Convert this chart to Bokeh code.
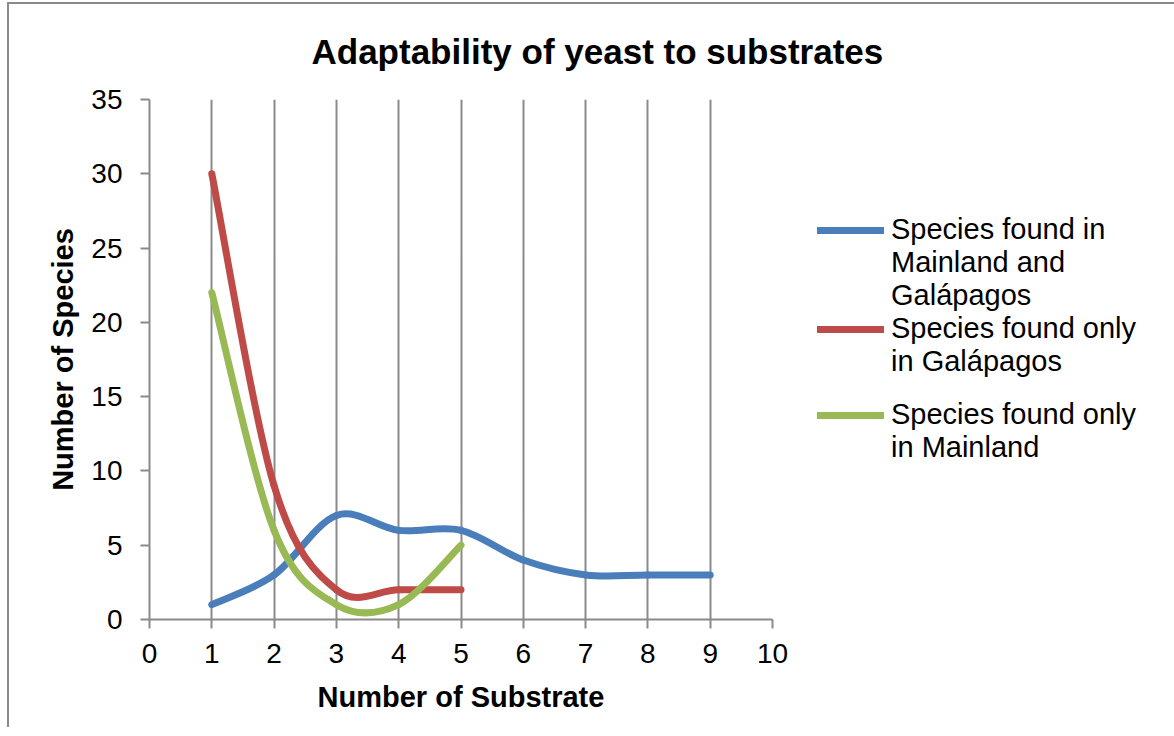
from bokeh.plotting import figure
from bokeh.models import Range1d, FixedTicker, ColumnDataSource, Legend, LegendItem, Title
from bokeh.embed import file_html
from bokeh.resources import INLINE

# ---------------- data ----------------
X_BOTH = [1, 2, 3, 4, 5, 6, 7, 8, 9]
Y_BOTH = [1, 3, 7, 6, 6, 4, 3, 3, 3]
X_GALAPAGOS = [1, 2, 3, 4, 5]
Y_GALAPAGOS = [30, 9, 2, 2, 2]
X_MAINLAND = [1, 2, 3, 4, 5]
Y_MAINLAND = [22, 6, 1, 1, 5]

SERIES_LABELS = [
    ["Species found in", "Mainland and", "Galápagos"],
    ["Species found only", "in Galápagos"],
    ["Species found only", "in Mainland"],
]
SERIES_COLORS = ["#4A7EBB", "#BE4B48", "#98B954"]
X_TICKS = [0, 1, 2, 3, 4, 5, 6, 7, 8, 9, 10]
Y_TICKS = [0, 5, 10, 15, 20, 25, 30, 35]
TITLE = "Adaptability of yeast to substrates"
X_TITLE = "Number of Substrate"
Y_TITLE = "Number of Species"

FONT = "Liberation Sans"
GRAY = "#8a8a8a"
LW = 7


def smooth_segments(xs, ys):
    """Cubic Bezier segments (Catmull-Rom, tension 1/6) like Excel smoothing."""
    n = len(xs)
    pts = list(zip(xs, ys))
    d = {k: [] for k in ("x0", "y0", "x1", "y1", "cx0", "cy0", "cx1", "cy1")}
    for i in range(n - 1):
        p0 = pts[i - 1] if i > 0 else pts[i]
        p1 = pts[i]
        p2 = pts[i + 1]
        p3 = pts[i + 2] if i + 2 < n else pts[i + 1]
        d["x0"].append(p1[0]); d["y0"].append(p1[1])
        d["x1"].append(p2[0]); d["y1"].append(p2[1])
        d["cx0"].append(p1[0] + (p2[0] - p0[0]) / 6)
        d["cy0"].append(p1[1] + (p2[1] - p0[1]) / 6)
        d["cx1"].append(p2[0] - (p3[0] - p1[0]) / 6)
        d["cy1"].append(p2[1] - (p3[1] - p1[1]) / 6)
    return ColumnDataSource(d)


p = figure(
    frame_width=623, frame_height=520,
    min_border_left=140, min_border_right=395,
    min_border_top=95, min_border_bottom=108,
    x_range=Range1d(X_TICKS[0], X_TICKS[-1]), y_range=Range1d(Y_TICKS[0], Y_TICKS[-1]),
    output_backend="svg", toolbar_location=None, title=None,
)
p.styles = {"margin-left": "7px", "margin-top": "2px",
            "border-left": "2px solid " + GRAY, "border-top": "2px solid " + GRAY}
p.outline_line_color = None
p.background_fill_color = "white"
p.border_fill_color = "white"

# title
title = Title(text=TITLE, text_font=FONT, text_font_size="35px",
              text_font_style="bold", text_color="black", align="left",
              vertical_align="top", offset=162, standoff=53)
p.add_layout(title, "above")

# grid
p.xgrid.ticker = FixedTicker(ticks=X_TICKS)
p.xgrid.grid_line_color = GRAY
p.xgrid.grid_line_width = 2
p.ygrid.grid_line_color = None

# axes
for ax in (p.xaxis[0], p.yaxis[0]):
    ax.axis_line_color = GRAY
    ax.axis_line_width = 2
    ax.major_tick_line_color = GRAY
    ax.major_tick_line_width = 2
    ax.major_tick_in = 0
    ax.major_tick_out = 9
    ax.minor_tick_line_color = None
    ax.major_label_text_font = FONT
    ax.major_label_text_font_size = "28px"
    ax.major_label_text_color = "black"
    ax.axis_label_text_font = FONT
    ax.axis_label_text_font_size = "29px"
    ax.axis_label_text_font_style = "bold"
    ax.axis_label_text_color = "black"

p.xaxis.ticker = FixedTicker(ticks=X_TICKS)
p.yaxis.ticker = FixedTicker(ticks=Y_TICKS)
p.xaxis.major_label_standoff = 15
p.yaxis.major_label_standoff = 18
p.xaxis.axis_label_standoff = 15
p.yaxis.axis_label_standoff = 9
p.xaxis.axis_label = X_TITLE
p.yaxis.axis_label = Y_TITLE

# smoothed series
for xs, ys, color in ((X_BOTH, Y_BOTH, SERIES_COLORS[0]),
                      (X_GALAPAGOS, Y_GALAPAGOS, SERIES_COLORS[1]),
                      (X_MAINLAND, Y_MAINLAND, SERIES_COLORS[2])):
    src = smooth_segments(xs, ys)
    p.bezier(x0="x0", y0="y0", x1="x1", y1="y1", cx0="cx0", cy0="cy0",
             cx1="cx1", cy1="cy1", source=src, line_color=color,
             line_width=LW, line_cap="round")

# legend: one row per text line (Excel wraps the labels)
# swatch renderers sit outside the visible ranges; they only feed the legend
OFF = [-100, -99]
blank = p.line(x=OFF, y=OFF, line_alpha=0)
items = []
for k, (color, lines) in enumerate(zip(SERIES_COLORS, SERIES_LABELS)):
    swatch = p.line(x=OFF, y=OFF, line_color=color, line_width=LW, line_cap="round")
    for j, line in enumerate(lines):
        items.append(LegendItem(label=line, renderers=[swatch if j == 0 else blank]))
    if k == 1:
        items.append(LegendItem(label=" ", renderers=[blank]))

legend = Legend(items=items, location=(45, 155), orientation="vertical",
                label_text_font=FONT, label_text_font_size="29px",
                label_text_color="black", glyph_width=67, glyph_height=20,
                label_height=20, label_standoff=7, spacing=0, padding=50,
                margin=0, border_line_color=None, background_fill_alpha=0,
                click_policy="none")
p.add_layout(legend, "right")

open("out.html", "w").write(file_html(p, INLINE))
